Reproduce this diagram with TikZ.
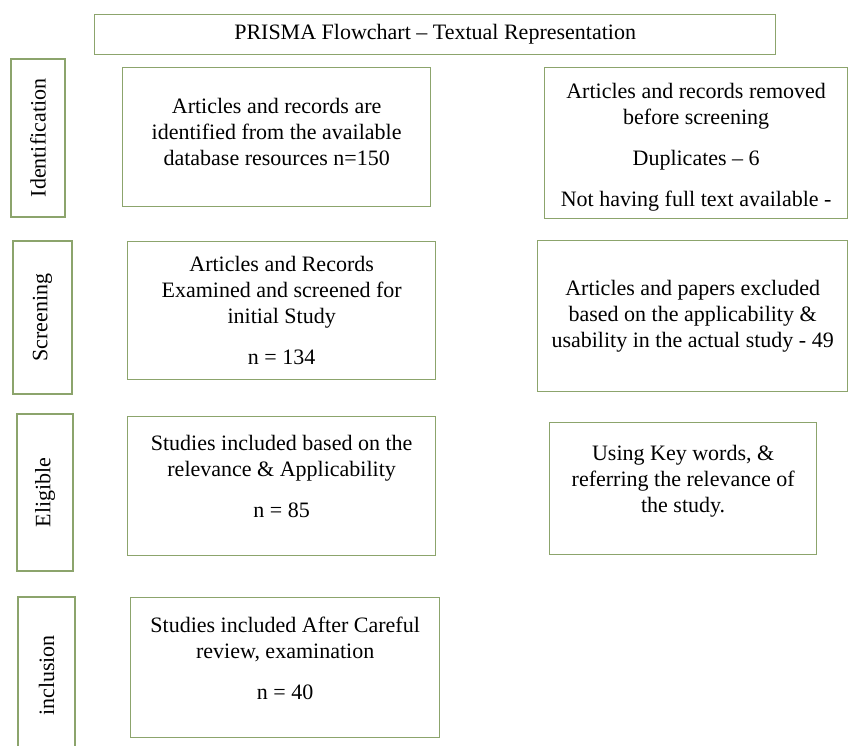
\documentclass[tikz,border=0pt]{standalone}
\usepackage{fontspec}
\setmainfont{Liberation Serif}
\usetikzlibrary{positioning}
\definecolor{boxgreen}{HTML}{8CA46C}
\newcommand{\prfont}{\fontsize{22}{26}\selectfont}

\begin{document}
\begin{tikzpicture}[x=1pt,y=-1pt,
    base/.style={draw=boxgreen,line width=1.3pt,inner sep=0pt,
    align=center,font=\prfont},
    card/.style={base,anchor=north west,text width=296pt,align=flush center},
    lift/.style={execute at end node={\endgraf\vspace*{#1}}},
    stagebox/.style={base,rotate=90}]
 \clip (0,0) rectangle (848,745);
 % title
 \node[base,anchor=north west,minimum width=681,minimum height=40](title) at (94,14)
    {PRISMA Flowchart -- Textual Representation};
 % left column, one box per phase
 \path[nodes=card]
  node[minimum width=308,minimum height=139,lift=10pt](ident) at (122,67)
    {Articles and records are\\ identified from the available\\ database resources n=150}
  node[minimum width=308,minimum height=138](screen) at (127,241)
    {Articles and Records\\ Examined and screened for\\ initial Study\\[15pt] n = 134}
  node[minimum width=308,minimum height=139,lift=20pt](elig) at (127,416)
    {Studies included based on the\\ relevance \& Applicability\\[15pt] n = 85}
  node[minimum width=309,minimum height=140,lift=18pt](incl) at (130,597)
    {Studies included After Careful\\ review, examination\\[15pt] n = 40};
 % right column
 \path[nodes=card]
  node[minimum width=303,minimum height=151,lift=-8pt](removed) at (544,67)
    {Articles and records removed\\ before screening\\[15pt] Duplicates -- 6\\[15pt] Not having full text available -}
  node[minimum width=310,minimum height=151](excluded) at (537,240)
    {Articles and papers excluded\\ based on the applicability \&\\ usability in the actual study - 49}
  node[text width=260pt,minimum width=267,minimum height=132,lift=14pt](keywords) at (549,422)
    {Using Key words, \&\\ referring the relevance of\\ the study.};
 % phase labels
 \path[nodes=stagebox]
  node[minimum width=158,minimum height=54](sIdent) at (38,138) {Identification}
  node[minimum width=153,minimum height=59](sScreen) at (42.5,317.5) {Screening}
  node[minimum width=157,minimum height=56](sElig) at (45,492.5) {Eligible}
  node[minimum width=157,minimum height=57](sIncl) at (46.5,675.5) {inclusion};
\end{tikzpicture}
\end{document}
